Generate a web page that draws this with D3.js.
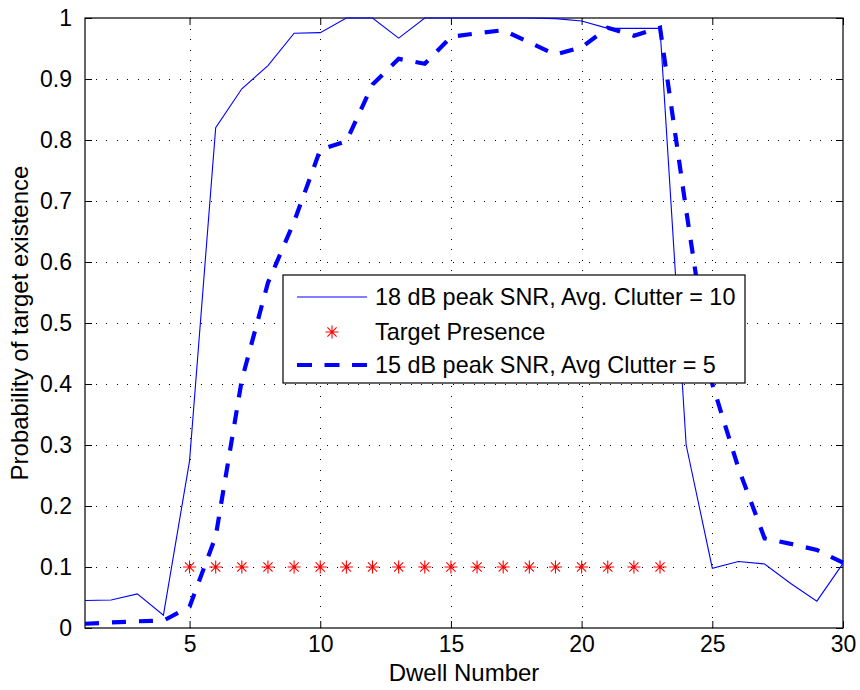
<!DOCTYPE html>
<html>
<head>
<meta charset="utf-8">
<script src="https://cdn.jsdelivr.net/npm/d3@7"></script>
<style>
	body { margin: 0; background: #fff; }
	svg text { font-family: "Liberation Sans", Arial, sans-serif; fill: #000; }
</style>
</head>
<body>
<svg id="chart" width="860" height="690"></svg>
<script>
var dwells = d3.range(1, 31);
var snr18 = [0.045, 0.046, 0.056, 0.021, 0.274, 0.820, 0.884, 0.922, 0.975, 0.976,
	1.000, 1.000, 0.967, 1.000, 1.000, 1.000, 1.000, 1.000, 0.999, 0.995,
	0.983, 0.983, 0.983, 0.300, 0.098, 0.109, 0.105, 0.073, 0.044, 0.106];
var snr15 = [0.007, 0.009, 0.011, 0.012, 0.035, 0.150, 0.407, 0.566, 0.666, 0.784,
	0.798, 0.891, 0.933, 0.925, 0.969, 0.975, 0.980, 0.960, 0.940, 0.952,
	0.984, 0.971, 0.984, 0.685, 0.400, 0.262, 0.147, 0.138, 0.128, 0.107];
var presenceDwells = d3.range(5, 24);
var presenceLevel = 0.1;
var xTicks = [5, 10, 15, 20, 25, 30];
var yTicks = [0, 0.1, 0.2, 0.3, 0.4, 0.5, 0.6, 0.7, 0.8, 0.9, 1];
var seriesNames = ["18 dB peak SNR, Avg. Clutter = 10", "Target Presence", "15 dB peak SNR, Avg Clutter = 5"];

(function() {
	"use strict";

	var svg = d3.select("#chart"),
		margin = {left: 85, right: 17, top: 18, bottom: 62},
		width = 860 - margin.left - margin.right,
		height = 690 - margin.top - margin.bottom,
		tickLen = 7,
		tickFont = 23,
		labelFont = 24,
		legendFont = 23.4;

	var x = d3.scaleLinear().domain([1, 30]).range([0, width]),
		y = d3.scaleLinear().domain([0, 1]).range([height, 0]);

	var g = svg.append("g")
		.attr("transform", "translate(" + margin.left + "," + margin.top + ")");

	// dotted grid
	var grid = g.append("g").attr("class", "grid")
		.attr("stroke", "#000").attr("stroke-width", 1)
		.attr("stroke-dasharray", "1,9.5").attr("shape-rendering", "crispEdges");
	grid.selectAll(".gx").data(xTicks.filter(function(d) { return d < 30; }))
		.enter().append("line")
			.attr("x1", function(d) { return Math.round(x(d)) + 0.5; })
			.attr("x2", function(d) { return Math.round(x(d)) + 0.5; })
			.attr("y1", height).attr("y2", 0);
	grid.selectAll(".gy").data(yTicks.filter(function(d) { return d > 0 && d < 1; }))
		.enter().append("line")
			.attr("y1", function(d) { return Math.round(y(d)) + 0.5; })
			.attr("y2", function(d) { return Math.round(y(d)) + 0.5; })
			.attr("x1", 0).attr("x2", width);

	// axes: ticks inside, on all four sides
	var fmt = function(d) { return d3.format("~g")(d); };
	var xAxisB = d3.axisBottom(x).tickValues(xTicks).tickSizeInner(-tickLen).tickSizeOuter(0).tickPadding(8).tickFormat(d3.format("d")),
		xAxisT = d3.axisTop(x).tickValues(xTicks).tickSizeInner(-tickLen).tickSizeOuter(0).tickFormat(""),
		yAxisL = d3.axisLeft(y).tickValues(yTicks).tickSizeInner(-tickLen).tickSizeOuter(0).tickPadding(13).tickFormat(fmt),
		yAxisR = d3.axisRight(y).tickValues(yTicks).tickSizeInner(-tickLen).tickSizeOuter(0).tickFormat("");

	var axes = [
		g.append("g").attr("transform", "translate(0," + height + ")").call(xAxisB),
		g.append("g").call(xAxisT),
		g.append("g").call(yAxisL),
		g.append("g").attr("transform", "translate(" + width + ",0)").call(yAxisR)
	];
	axes.forEach(function(a) {
		a.select(".domain").remove();
		a.selectAll("line").attr("stroke", "#000");
		a.selectAll("text")
			.style("font-family", "'Liberation Sans', Arial, sans-serif")
			.style("font-size", tickFont + "px").attr("fill", "#000");
	});

	g.append("rect")
		.attr("width", width).attr("height", height)
		.attr("fill", "none").attr("stroke", "#000").attr("stroke-width", 1.2);

	// series
	var line = d3.line()
		.x(function(d) { return x(d[0]); })
		.y(function(d) { return y(d[1]); });

	g.append("path")
		.datum(d3.zip(dwells, snr18))
		.attr("d", line)
		.attr("fill", "none").attr("stroke", "#0000ff").attr("stroke-width", 1.1);

	var star = "M0,-6.5V6.5M-6.5,0H6.5M-4.6,-4.6L4.6,4.6M-4.6,4.6L4.6,-4.6";
	g.selectAll(".presence").data(presenceDwells)
		.enter().append("path")
			.attr("class", "presence")
			.attr("transform", function(d) { return "translate(" + x(d) + "," + y(presenceLevel) + ")"; })
			.attr("d", star)
			.attr("fill", "none").attr("stroke", "#ff0000").attr("stroke-width", 1.1);

	g.append("path")
		.datum(d3.zip(dwells, snr15))
		.attr("d", line)
		.attr("fill", "none").attr("stroke", "#0000ff").attr("stroke-width", 4.2)
		.attr("stroke-dasharray", "14,13");

	// axis labels
	svg.append("text")
		.attr("x", margin.left + width / 2).attr("y", 681)
		.attr("text-anchor", "middle")
		.style("font-size", labelFont + "px")
		.text("Dwell Number");
	svg.append("text")
		.attr("transform", "translate(28," + (margin.top + height / 2) + ") rotate(-90)")
		.attr("text-anchor", "middle")
		.style("font-size", labelFont + "px")
		.text("Probability of target existence");

	// legend
	var legend = svg.append("g").attr("class", "legend")
		.attr("transform", "translate(283,275)");
	legend.append("rect")
		.attr("width", 462).attr("height", 108)
		.attr("fill", "#fff").attr("stroke", "#000").attr("stroke-width", 1.2);

	var rowY = [22, 57, 90];
	var steps = legend.selectAll(".legend-step").data(seriesNames)
		.enter().append("g")
			.attr("class", "legend-step")
			.attr("transform", function(d, i) { return "translate(0," + rowY[i] + ")"; });
	steps.append("text")
		.attr("x", 92).attr("dy", ".36em")
		.style("font-size", legendFont + "px")
		.text(function(d) { return d; });

	steps.filter(function(d, i) { return i == 0; }).append("line")
		.attr("x1", 14).attr("x2", 84)
		.attr("stroke", "#0000ff").attr("stroke-width", 1.1);
	steps.filter(function(d, i) { return i == 1; }).append("path")
		.attr("transform", "translate(49,0)")
		.attr("d", star)
		.attr("fill", "none").attr("stroke", "#ff0000").attr("stroke-width", 1.1);
	steps.filter(function(d, i) { return i == 2; }).append("line")
		.attr("x1", 14).attr("x2", 84)
		.attr("stroke", "#0000ff").attr("stroke-width", 4.2)
		.attr("stroke-dasharray", "15,12.5");
})();
</script>
</body>
</html>
